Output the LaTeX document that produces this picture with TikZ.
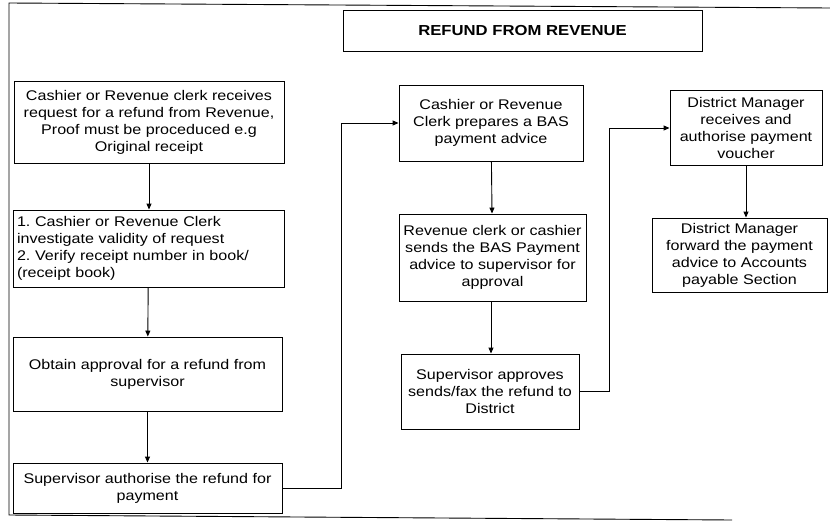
\documentclass[tikz,border=0pt]{standalone}
\usepackage{fontspec}
\newfontfamily\boxfont{Liberation Sans}[FakeStretch=1.15]
\usetikzlibrary{arrows.meta}
\begin{document}
\begin{tikzpicture}[x=1pt,y=-1pt,
  every node/.style={font=\boxfont\fontsize{14}{17}\selectfont},
  stepbox/.style={draw, line width=0.9pt, align=center, inner sep=3pt},
  flow/.style={line width=0.9pt, -{Triangle[length=6pt,width=5pt]}}]
\useasboundingbox (0,0) rectangle (830,522);
% outer frame (open on the right)
\draw[line width=0.9pt] (830,8) -- (9,3) -- (9,515) -- (732,520);
% title
\node[draw, line width=0.9pt, minimum width=359pt, minimum height=41pt,
  font=\boxfont\fontsize{14.5}{17}\selectfont\bfseries] (title) at (522.5,31) {REFUND FROM REVENUE};
% left column
\node[stepbox, minimum width=270pt, minimum height=82pt] (A) at (149,122)
  {Cashier or Revenue clerk receives\\ request for a refund from Revenue,\\ Proof must be proceduced e.g\\ Original receipt};
\node[stepbox, minimum width=271pt, minimum height=77pt, align=left, text width=263pt] (B) at (148.5,248.5)
  {1.\ Cashier or Revenue Clerk\\ investigate validity of request\\ 2.\ Verify receipt number in book/\\ (receipt book)};
\node[stepbox, minimum width=269pt, minimum height=74pt] (C) at (147.5,374)
  {Obtain approval for a refund from\\ supervisor};
\node[stepbox, minimum width=269pt, minimum height=50pt] (D) at (147.5,488)
  {Supervisor authorise the refund for\\ payment};
% middle column
\node[stepbox, minimum width=184pt, minimum height=76pt] (E) at (491,123)
  {Cashier or Revenue\\ Clerk prepares a BAS\\ payment advice};
\node[stepbox, minimum width=187pt, minimum height=87pt] (F) at (492.5,257.5)
  {Revenue clerk or cashier\\ sends the BAS Payment\\ advice to supervisor for\\ approval};
\node[stepbox, minimum width=178pt, minimum height=75pt] (G) at (490,391.5)
  {Supervisor approves\\ sends/fax the refund to\\ District};
% right column
\node[stepbox, minimum width=152pt, minimum height=75pt] (H) at (746,128)
  {District Manager\\ receives and\\ authorise payment\\ voucher};
\node[stepbox, minimum width=175pt, minimum height=74pt] (I) at (739.5,255)
  {District Manager\\ forward the payment\\ advice to Accounts\\ payable Section};
% connectors
\coordinate (j1) at (341,0);
\coordinate (j2) at (609,0);
\draw[flow] (A.south) -- (B.north -| A.south);
\draw[flow] (B) -- (C);
\draw[flow] (C) -- (D);
\draw[flow] (D.east) -- (D.east -| j1) -- (j1 |- E.west) -- (E.west);
\draw[flow] (E) -- (F);
\draw[flow] (F.south -| E.south) -- (G.north -| E.south);
\draw[flow] (G.east) -- (G.east -| j2) -- (j2 |- H.west) -- (H.west);
\draw[flow] (H.south) -- (I.north -| H.south);
\end{tikzpicture}
\end{document}
